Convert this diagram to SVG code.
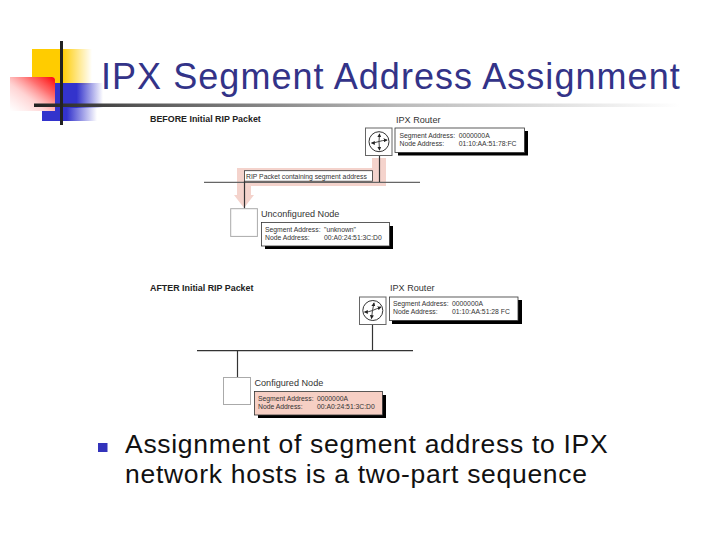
<svg xmlns="http://www.w3.org/2000/svg" width="720" height="540" viewBox="0 0 720 540">
<style>
text{font-family:"Liberation Sans",Arial,sans-serif}
.t{fill:#333388;font-size:36px;letter-spacing:1.05px}
.b{fill:#111;font-size:26.5px;letter-spacing:.7px}
.h{font-size:8.9px;font-weight:bold;fill:#222}
.n{font-size:9.1px;fill:#333}
.s{font-size:6.8px;fill:#333}
.box{fill:#fff;stroke:#aaa;stroke-width:1}
.rbox{fill:#fff;stroke:#666;stroke-width:1}
.info{fill:#fff;stroke:#333;stroke-width:.8}
.sh{fill:#000}
.w{stroke:#333;stroke-width:1.2;fill:none}
.ar{stroke:#333;stroke-width:1;fill:none}
.ah{stroke:#333;stroke-width:.9;fill:none;marker-end:url(#tip)}
</style>
<defs>
<marker id="tip" viewBox="0 0 6 6" refX="5" refY="3" markerWidth="4" markerHeight="4" markerUnits="userSpaceOnUse" orient="auto"><path d="M0 0L6 3L0 6Z" fill="#222"/></marker>
<linearGradient id="gy" x1="0" x2="1" y1="0" y2="0"><stop offset="0" stop-color="#ffcc00"/><stop offset=".5" stop-color="#ffcc00"/><stop offset="1" stop-color="#ffcc00" stop-opacity="0"/></linearGradient>
<linearGradient id="gb" x1="0" x2="1" y1="0" y2="0"><stop offset="0" stop-color="#3333cc"/><stop offset=".45" stop-color="#3333cc"/><stop offset="1" stop-color="#3333cc" stop-opacity="0"/></linearGradient>
<linearGradient id="gr" x1="1" x2="0" y1="0" y2="1"><stop offset="0" stop-color="#ff0000"/><stop offset=".3" stop-color="#ff3030" stop-opacity=".7"/><stop offset=".6" stop-color="#ff7070" stop-opacity=".3"/><stop offset="1" stop-color="#ff9090" stop-opacity="0"/></linearGradient>
<linearGradient id="gl" x1="0" x2="1" y1="0" y2="0"><stop offset="0" stop-color="#222"/><stop offset=".16" stop-color="#555"/><stop offset=".57" stop-color="#bbb"/><stop offset="1" stop-color="#fff"/></linearGradient>
</defs>
<g id="logo">
<rect x="32" y="49" width="60" height="36" fill="url(#gy)"/>
<rect x="55" y="83" width="48" height="25" fill="url(#gb)"/>
<rect x="42" y="108" width="55" height="13" fill="url(#gb)"/>
<path d="M10 77H52Q55 77 55 80V111H10Z" fill="#fff"/>
<path d="M10 77H52Q55 77 55 80V111H10Z" fill="url(#gr)"/>
<rect x="34" y="103.500" width="646" height="3.500" fill="url(#gl)"/>
<rect x="60" y="41" width="3" height="84" fill="#222"/>
</g>
<text class="t" x="101" y="89">IPX Segment Address Assignment</text>
<g id="bullet"><rect x="98" y="443" width="9.500" height="9" fill="#3333bb"/></g>
<text class="b" x="125" y="453">Assignment of segment address to IPX</text>
<text class="b" x="125" y="483">network hosts is a two-part sequence</text>

<text class="h" x="150" y="122">BEFORE Initial RIP Packet</text>
<path id="rip-highlight" d="M372 158H386V186H251V195H254L244 208L234 195H237V168H372Z" fill="#f4d3cc"/>
<g id="connectors-before">
<line x1="204" y1="182.300" x2="420" y2="182.300" stroke="#666" stroke-width="1.200"/>
<line class="w" x1="379.500" y1="155.700" x2="379.500" y2="182"/>
<line class="w" x1="244.500" y1="181" x2="244.500" y2="208.500"/>
</g>
<g id="rip-label"><rect class="info" x="244.500" y="170.700" width="128" height="10.500"/><text class="s" x="246" y="178.500">RIP Packet containing segment address</text></g>
<g id="router-before">
<rect class="rbox" x="365.500" y="128" width="26.500" height="27.500"/>
<circle class="ar" cx="379" cy="141.700" r="10"/>
<path class="ah" d="M379 141.500Q374 143 371.500 143"/>
<path class="ah" d="M379 141.500L379.500 134"/>
<path class="ah" d="M379 141.500L379.500 150"/>
<path class="ah" d="M379 141.500Q382 140.500 387 140"/>
<text class="n" x="396" y="122.500">IPX Router</text>
<rect class="sh" x="398" y="131" width="130" height="24.500"/>
<rect class="info" x="395" y="128" width="129.500" height="24.500"/>
<text class="s" x="399.500" y="137.500">Segment Address:</text><text class="s" x="458.700" y="137.500">0000000A</text>
<text class="s" x="399.500" y="145.500">Node Address:</text><text class="s" x="458.700" y="145.500">01:10:AA:51:78:FC</text>
</g>
<g id="node-before">
<rect class="box" x="230.700" y="208.700" width="26.700" height="27.700"/>
<text class="n" x="261" y="217">Unconfigured Node</text>
<rect class="sh" x="265" y="226" width="128" height="23"/>
<rect class="info" x="261.500" y="222.500" width="128" height="23.500"/>
<text class="s" x="265" y="231.500">Segment Address:</text><text class="s" x="324" y="231.500">"unknown"</text>
<text class="s" x="265" y="239.500">Node Address:</text><text class="s" x="324" y="239.500">00:A0:24:51:3C:D0</text>
</g>

<text class="h" x="150" y="291">AFTER Initial RIP Packet</text>
<g id="connectors-after">
<line x1="197" y1="350.700" x2="413" y2="350.700" stroke="#333" stroke-width="1.200"/>
<line class="w" x1="372.500" y1="324" x2="372.500" y2="350.500"/>
<line class="w" x1="237.500" y1="350.500" x2="237.500" y2="377"/>
</g>
<g id="router-after">
<rect class="rbox" x="359.500" y="297" width="26.500" height="27.500"/>
<circle class="ar" cx="372.800" cy="310.500" r="10"/>
<path class="ah" d="M372.500 310.500Q369 312 364.500 312"/>
<path class="ah" d="M372.500 310.500L374 303"/>
<path class="ah" d="M372.500 310.500L371.500 318.500"/>
<path class="ah" d="M372.500 310.500Q376 309 381 307"/>
<text class="n" x="390" y="291">IPX Router</text>
<rect class="sh" x="392" y="300" width="130" height="24"/>
<rect class="info" x="389.500" y="297" width="128.500" height="23.500"/>
<text class="s" x="393" y="306">Segment Address:</text><text class="s" x="452" y="306">0000000A</text>
<text class="s" x="393" y="314">Node Address:</text><text class="s" x="452" y="314">01:10:AA:51:28 FC</text>
</g>
<g id="node-after">
<rect class="box" x="223.500" y="377.500" width="27" height="27"/>
<text class="n" x="254.500" y="386">Configured Node</text>
<rect class="sh" x="258" y="395" width="128" height="23"/>
<rect class="info" x="254.500" y="391.500" width="128" height="23.500" style="fill:#f6cfc4"/>
<text class="s" x="258" y="400.500">Segment Address:</text><text class="s" x="317" y="400.500">0000000A</text>
<text class="s" x="258" y="408.500">Node Address:</text><text class="s" x="317" y="408.500">00:A0:24:51:3C:D0</text>
</g>
</svg>
